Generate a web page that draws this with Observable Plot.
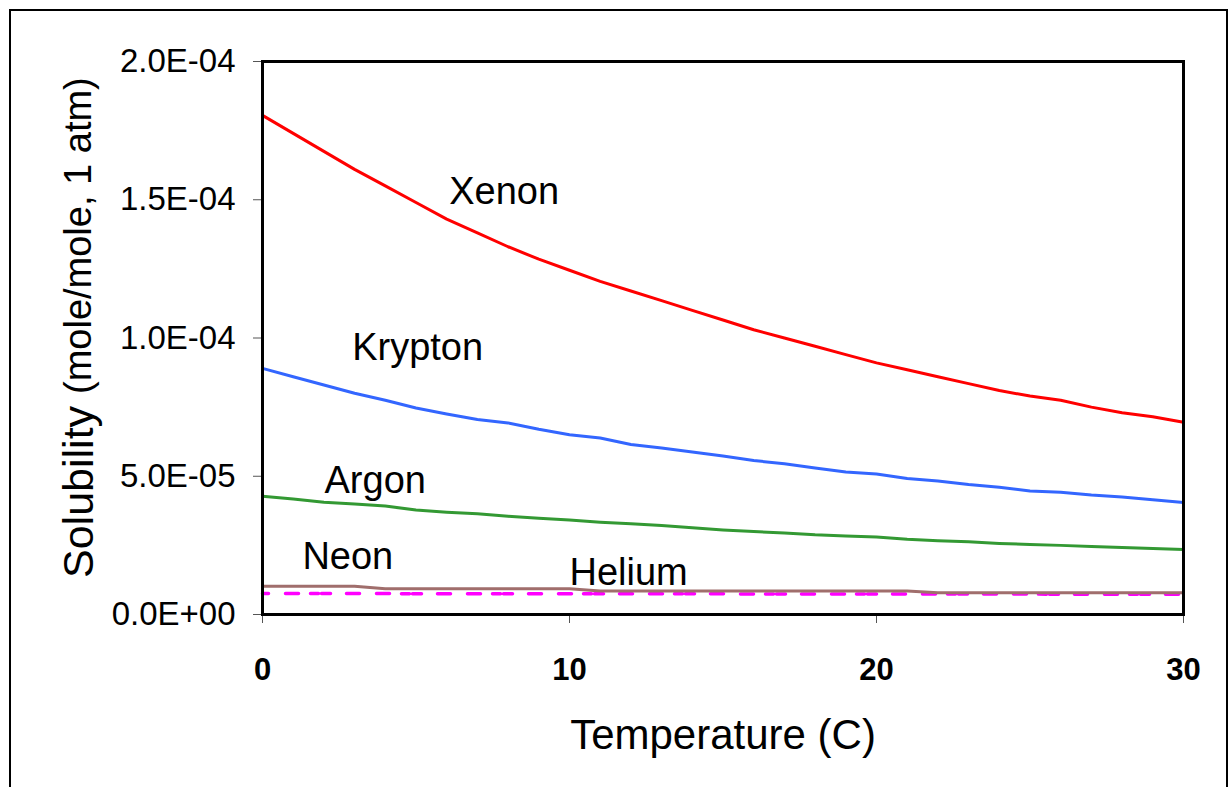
<!DOCTYPE html>
<html><head><meta charset="utf-8">
<script src="https://cdn.jsdelivr.net/npm/d3@7"></script>
<script src="https://cdn.jsdelivr.net/npm/@observablehq/plot@0.6"></script>
<style>
html,body{margin:0;padding:0;background:#fff;overflow:hidden}
#wrap{position:relative;width:1230px;height:787px}
#border{position:absolute;left:9px;top:9px;width:1215px;height:800px;border:2px solid #000;pointer-events:none}
</style></head><body><div id="wrap"><div id="border"></div></div>
<script>
const temperatures = [0,1,2,3,4,5,6,7,8,9,10,11,12,13,14,15,16,17,18,19,20,21,22,23,24,25,26,27,28,29,30];
const xenon   = [18.05e-5,17.4e-5,16.75e-5,16.1e-5,15.5e-5,14.9e-5,14.3e-5,13.8e-5,13.3e-5,12.85e-5,12.45e-5,12.05e-5,11.7e-5,11.35e-5,11.0e-5,10.65e-5,10.3e-5,10.0e-5,9.7e-5,9.4e-5,9.1e-5,8.85e-5,8.6e-5,8.35e-5,8.1e-5,7.9e-5,7.75e-5,7.5e-5,7.3e-5,7.15e-5,6.95e-5];
const krypton = [8.9e-5,8.6e-5,8.3e-5,8.0e-5,7.75e-5,7.47e-5,7.25e-5,7.05e-5,6.93e-5,6.7e-5,6.5e-5,6.38e-5,6.15e-5,6.02e-5,5.88e-5,5.73e-5,5.57e-5,5.45e-5,5.3e-5,5.15e-5,5.08e-5,4.92e-5,4.83e-5,4.7e-5,4.6e-5,4.47e-5,4.42e-5,4.32e-5,4.25e-5,4.15e-5,4.05e-5];
const argon   = [4.28e-5,4.18e-5,4.06e-5,4.0e-5,3.92e-5,3.78e-5,3.7e-5,3.64e-5,3.55e-5,3.48e-5,3.42e-5,3.34e-5,3.28e-5,3.22e-5,3.14e-5,3.06e-5,3.0e-5,2.95e-5,2.88e-5,2.84e-5,2.8e-5,2.72e-5,2.67e-5,2.63e-5,2.57e-5,2.53e-5,2.5e-5,2.46e-5,2.42e-5,2.39e-5,2.35e-5];
const neon    = [1.02e-5,1.02e-5,1.02e-5,1.02e-5,0.93e-5,0.93e-5,0.93e-5,0.93e-5,0.93e-5,0.93e-5,0.93e-5,0.85e-5,0.85e-5,0.85e-5,0.85e-5,0.85e-5,0.85e-5,0.85e-5,0.85e-5,0.85e-5,0.85e-5,0.85e-5,0.79e-5,0.79e-5,0.79e-5,0.79e-5,0.79e-5,0.79e-5,0.79e-5,0.79e-5,0.79e-5];
const helium  = [0.76e-5,0.76e-5,0.76e-5,0.76e-5,0.76e-5,0.75e-5,0.75e-5,0.75e-5,0.75e-5,0.75e-5,0.75e-5,0.75e-5,0.75e-5,0.75e-5,0.75e-5,0.75e-5,0.74e-5,0.74e-5,0.74e-5,0.74e-5,0.74e-5,0.74e-5,0.74e-5,0.74e-5,0.74e-5,0.74e-5,0.73e-5,0.73e-5,0.73e-5,0.73e-5,0.73e-5];

const labelNames = ["Xenon","Krypton","Argon","Neon","Helium"];
const labelT     = [6.08, 2.92, 2.02, 1.3, 10.0];
const labelV     = [1.486e-4, 9.19e-5, 4.38e-5, 1.66e-5, 1.05e-5];

const xTicks = [0,10,20,30];
const yTicks = [0,5e-5,1e-4,1.5e-4,2e-4];
const xTitle = "Temperature (C)";
const yTitleMain = "Solubility";
const yTitleUnit = "(mole/mole, 1 atm)";

const toRows = (vals) => vals.map((v,i) => ({T: temperatures[i], v}));
const labels = labelNames.map((n,i) => ({name:n, T: labelT[i], v: labelV[i]}));

function sci(d){
  if (d === 0) return "0.0E+00";
  const e = Math.floor(Math.log10(d) + 1e-9);
  const m = d / Math.pow(10, e);
  return m.toFixed(1) + "E" + (e < 0 ? "-" : "+") + String(Math.abs(e)).padStart(2,"0");
}

const chart = Plot.plot({
  width: 1230, height: 787,
  marginLeft: 262, marginRight: 47, marginTop: 61, marginBottom: 173,
  style: {fontFamily: "'Liberation Sans', Arial, sans-serif", background: "transparent", color: "#000"},
  x: {domain: [0,30]},
  y: {domain: [0,2e-4]},
  marks: [
    Plot.line(toRows(helium), {x:"T", y:"v", stroke:"#ff00ff", strokeWidth:3.5, strokeDasharray:"13,17,13,12,8,3,9,16", strokeDashoffset:7}),
    Plot.line(toRows(neon), {x:"T", y:"v", stroke:"#a06e6c", strokeWidth:3}),
    Plot.line(toRows(argon), {x:"T", y:"v", stroke:"#339933", strokeWidth:3}),
    Plot.line(toRows(krypton), {x:"T", y:"v", stroke:"#3366ff", strokeWidth:3}),
    Plot.line(toRows(xenon), {x:"T", y:"v", stroke:"#ff0000", strokeWidth:3}),
    Plot.text(labels, {x:"T", y:"v", text:"name", textAnchor:"start", lineAnchor:"bottom", fontSize:38, fill:"#000"}),
    Plot.axisY({ticks: yTicks, tickFormat: sci, tickSize: 9, tickPadding: 18, stroke:"#555", fill:"#000", fontSize: 33, label: null}),
    Plot.axisX({ticks: xTicks, tickFormat: d => String(d), tickSize: 9, tickPadding: 34, stroke:"#555", fill:"#000", fontSize: 31, fontWeight: "bold", label: null}),
    Plot.frame({stroke:"#000", strokeWidth:3}),
    Plot.text([xTitle], {text: d => d, frameAnchor:"bottom", dy:134, lineAnchor:"bottom", fontSize:42, fill:"#000"}),
    Plot.text([yTitleMain], {text: d => d, frameAnchor:"left", dx:-170, dy:240, rotate:-90, textAnchor:"start", lineAnchor:"bottom", fontSize:43, fill:"#000"}),
    Plot.text([yTitleUnit], {text: d => d, frameAnchor:"left", dx:-172, dy:56, rotate:-90, textAnchor:"start", lineAnchor:"bottom", fontSize:38, fill:"#000"})
  ]
});
document.getElementById("wrap").appendChild(chart);
chart.style.position = "absolute"; chart.style.left = "0"; chart.style.top = "0";
</script></body></html>
